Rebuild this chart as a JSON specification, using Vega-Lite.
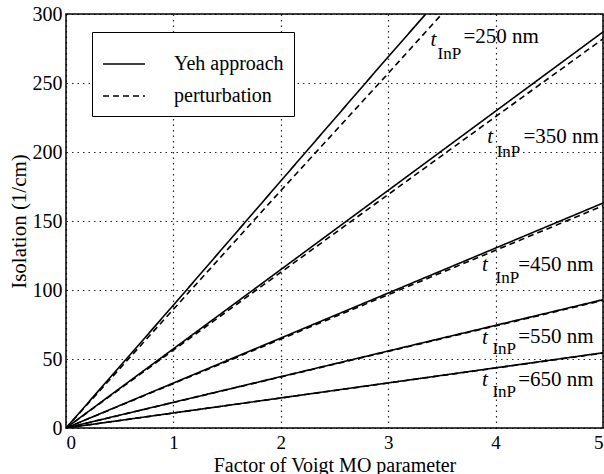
{
  "$schema": "https://vega.github.io/schema/vega-lite/v6.json",
  "width": 537,
  "height": 414,
  "autosize": {"type": "none"},
  "padding": {"left": 66, "top": 14, "right": 1, "bottom": 46},
  "background": "white",
  "config": {
    "font": "Liberation Serif, Times New Roman, DejaVu Serif, serif",
    "view": {"stroke": "black", "strokeWidth": 1.5},
    "text": {"font": "Liberation Serif, Times New Roman, DejaVu Serif, serif"},
    "legend": {"labelFont": "Liberation Serif, Times New Roman, DejaVu Serif, serif"},
    "axis": {
      "labelFont": "Liberation Serif, Times New Roman, DejaVu Serif, serif",
      "titleFont": "Liberation Serif, Times New Roman, DejaVu Serif, serif",
      "labelColor": "black",
      "titleColor": "black",
      "labelFontSize": 20,
      "titleFontSize": 21,
      "titleFontWeight": "normal",
      "grid": true,
      "gridColor": "black",
      "gridDash": [1.5, 4],
      "gridWidth": 1.2,
      "gridOpacity": 0.85,
      "domain": false,
      "tickSize": 0
    }
  },
  "datasets": {
    "lines": [
      {"series": "250s", "method": "Yeh approach", "x": 0, "y": 0},
      {"series": "250s", "method": "Yeh approach", "x": 1, "y": 89},
      {"series": "250s", "method": "Yeh approach", "x": 2, "y": 179},
      {"series": "250s", "method": "Yeh approach", "x": 3, "y": 269},
      {"series": "250s", "method": "Yeh approach", "x": 3.35, "y": 300},
      {"series": "350s", "method": "Yeh approach", "x": 0, "y": 0},
      {"series": "350s", "method": "Yeh approach", "x": 5, "y": 287},
      {"series": "450s", "method": "Yeh approach", "x": 0, "y": 0},
      {"series": "450s", "method": "Yeh approach", "x": 5, "y": 163},
      {"series": "550s", "method": "Yeh approach", "x": 0, "y": 0},
      {"series": "550s", "method": "Yeh approach", "x": 5, "y": 93},
      {"series": "650s", "method": "Yeh approach", "x": 0, "y": 0},
      {"series": "650s", "method": "Yeh approach", "x": 5, "y": 54.5},
      {"series": "250d", "method": "perturbation", "x": 0, "y": 0},
      {"series": "250d", "method": "perturbation", "x": 1, "y": 86},
      {"series": "250d", "method": "perturbation", "x": 2, "y": 172},
      {"series": "250d", "method": "perturbation", "x": 3, "y": 257},
      {"series": "250d", "method": "perturbation", "x": 3.5, "y": 300},
      {"series": "350d", "method": "perturbation", "x": 0, "y": 0},
      {"series": "350d", "method": "perturbation", "x": 5, "y": 282},
      {"series": "450d", "method": "perturbation", "x": 0, "y": 0},
      {"series": "450d", "method": "perturbation", "x": 5, "y": 161},
      {"series": "550d", "method": "perturbation", "x": 0, "y": 0},
      {"series": "550d", "method": "perturbation", "x": 5, "y": 92.5},
      {"series": "650d", "method": "perturbation", "x": 0, "y": 0},
      {"series": "650d", "method": "perturbation", "x": 5, "y": 54.3}
    ],
    "labels": [
      {"kind": "t", "x": 3.42, "y": 281, "text": "t"},
      {"kind": "sub", "x": 3.46, "y": 271, "text": "InP"},
      {"kind": "main", "x": 3.7, "y": 283, "text": "=250 nm"},
      {"kind": "t", "x": 3.95, "y": 211, "text": "t"},
      {"kind": "sub", "x": 4.01, "y": 200, "text": "InP"},
      {"kind": "main", "x": 4.26, "y": 211, "text": "=350 nm"},
      {"kind": "t", "x": 3.9, "y": 118, "text": "t"},
      {"kind": "sub", "x": 4.0, "y": 109, "text": "InP"},
      {"kind": "main", "x": 4.21, "y": 118, "text": "=450 nm"},
      {"kind": "t", "x": 3.9, "y": 65, "text": "t"},
      {"kind": "sub", "x": 3.97, "y": 57, "text": "InP"},
      {"kind": "main", "x": 4.21, "y": 66, "text": "=550 nm"},
      {"kind": "t", "x": 3.9, "y": 35, "text": "t"},
      {"kind": "sub", "x": 3.97, "y": 26, "text": "InP"},
      {"kind": "main", "x": 4.21, "y": 35, "text": "=650 nm"}
    ]
  },
  "layer": [
    {
      "data": {"name": "lines"},
      "mark": {"type": "line", "color": "black", "strokeWidth": 1.6, "clip": true},
      "encoding": {
        "x": {
          "field": "x", "type": "quantitative",
          "scale": {"domain": [0, 5], "nice": false},
          "axis": {"values": [0, 1, 2, 3, 4, 5], "format": "d", "labelFontSize": 19, "labelPadding": 5, "title": "Factor of Voigt MO parameter", "titleFontSize": 20, "titleY": 43, "titleBaseline": "alphabetic"}
        },
        "y": {
          "field": "y", "type": "quantitative",
          "scale": {"domain": [0, 300], "nice": false},
          "axis": {"values": [0, 50, 100, 150, 200, 250, 300], "format": "d", "labelPadding": 4, "title": "Isolation (1/cm)", "titleX": -41, "titleY": 207, "titleAlign": "center", "titleBaseline": "alphabetic"}
        },
        "detail": {"field": "series", "type": "nominal"},
        "strokeDash": {
          "field": "method", "type": "nominal",
          "scale": {"domain": ["Yeh approach", "perturbation"], "range": [[1, 0], [6, 4]]},
          "legend": {
            "orient": "none", "legendX": 26, "legendY": 18, "title": null,
            "strokeColor": "black", "fillColor": "white", "padding": 10,
            "symbolType": "stroke", "symbolSize": 1764, "symbolStrokeWidth": 1.5,
            "symbolStrokeColor": "black", "labelFontSize": 20,
            "labelColor": "black", "labelOffset": 28, "rowPadding": 0, "labelLimit": 300
          }
        }
      }
    },
    {
      "data": {"name": "labels"},
      "transform": [{"filter": "datum.kind === 't'"}],
      "mark": {"type": "text", "fontSize": 21, "fontStyle": "italic", "align": "center", "baseline": "middle", "color": "black"},
      "encoding": {
        "x": {"field": "x", "type": "quantitative"},
        "y": {"field": "y", "type": "quantitative"},
        "text": {"field": "text"}
      }
    },
    {
      "data": {"name": "labels"},
      "transform": [{"filter": "datum.kind === 'sub'"}],
      "mark": {"type": "text", "fontSize": 17, "align": "left", "baseline": "middle", "color": "black"},
      "encoding": {
        "x": {"field": "x", "type": "quantitative"},
        "y": {"field": "y", "type": "quantitative"},
        "text": {"field": "text"}
      }
    },
    {
      "data": {"name": "labels"},
      "transform": [{"filter": "datum.kind === 'main'"}],
      "mark": {"type": "text", "fontSize": 21, "align": "left", "baseline": "middle", "color": "black"},
      "encoding": {
        "x": {"field": "x", "type": "quantitative"},
        "y": {"field": "y", "type": "quantitative"},
        "text": {"field": "text"}
      }
    }
  ]
}
